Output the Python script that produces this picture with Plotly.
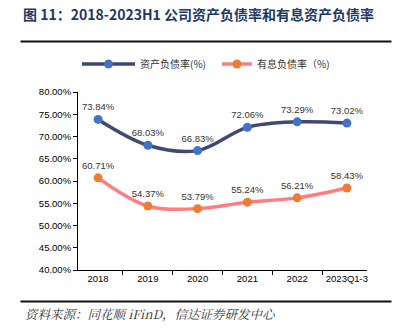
import plotly.graph_objects as go

categories = ["2018", "2019", "2020", "2021", "2022", "2023Q1-3"]
debt_ratio = [73.84, 68.03, 66.83, 72.06, 73.29, 73.02]
interest_debt_ratio = [60.71, 54.37, 53.79, 55.24, 56.21, 58.43]
y_ticks = [40, 45, 50, 55, 60, 65, 70, 75, 80]

W, H = 396, 332
L, R, T, B = 78, 29, 92, 62
PW, PH = W - L - R, H - T - B


def px_x(x):
    return (x - L) / PW


def px_y(y):
    return (H - B - y) / PH


def rule(y_px):
    # thin dark bar spanning the page width, used as a horizontal rule
    return dict(text="", xref="paper", yref="paper", x=px_x(20), y=px_y(y_px),
                xanchor="left", yanchor="middle", showarrow=False,
                width=370, height=1, borderpad=0, bgcolor="#111111")


label_font = dict(family="Liberation Sans, Arial", size=9.5, color="#333333")
legend_font = dict(family="Noto Sans CJK SC", size=10, color="#333333")

fig = go.Figure()
fig.add_trace(go.Scatter(
    x=categories, y=debt_ratio, name="资产负债率(%)", legend="legend",
    mode="lines+markers+text",
    line=dict(color="#404a70", width=3.5, shape="spline", smoothing=1),
    marker=dict(color="#4472c4", size=9),
    text=[f"{v:.2f}%" for v in debt_ratio], textposition="top center",
    textfont=label_font, cliponaxis=False,
))
fig.add_trace(go.Scatter(
    x=categories, y=interest_debt_ratio, name="有息负债率（%)", legend="legend2",
    mode="lines+markers+text",
    line=dict(color="#ff7c80", width=3.5, shape="spline", smoothing=1),
    marker=dict(color="#ed7d31", size=9),
    text=[f"{v:.2f}%" for v in interest_debt_ratio], textposition="top center",
    textfont=label_font, cliponaxis=False,
))

legend_common = dict(orientation="h", xref="container", yref="container",
                     y=1 - 64 / H, yanchor="middle", xanchor="left",
                     font=legend_font, bgcolor="rgba(0,0,0,0)", borderwidth=0)

fig.update_layout(
    width=W, height=H,
    margin=dict(l=L, r=R, t=T, b=B, autoexpand=False),
    paper_bgcolor="white", plot_bgcolor="white",
    font=dict(family="Liberation Sans, Arial, Noto Sans CJK SC", size=10, color="#333333"),
    showlegend=True,
    legend=dict(x=77 / W, itemwidth=53, **legend_common),
    legend2=dict(x=217 / W, itemwidth=30, **legend_common),
    xaxis=dict(type="category", showline=True, linecolor="#000000", linewidth=1,
               ticks="outside", ticklen=4, tickcolor="#000000", tickson="boundaries",
               tickangle=0, automargin=False,
               showgrid=False, tickfont=dict(size=9.5, color="#000000"), fixedrange=True),
    yaxis=dict(range=[40, 80], tickvals=y_ticks, ticktext=[f"{v:.2f}%" for v in y_ticks],
               showline=True, linecolor="#000000", linewidth=1, ticks="outside",
               ticklen=4, tickcolor="#000000", showgrid=False, zeroline=False,
               automargin=False,
               tickfont=dict(size=9.5, color="#000000"), fixedrange=True),
    annotations=[
        dict(text="<b>图 11：2018-2023H1 公司资产负债率和有息资产负债率</b>",
             xref="paper", yref="paper", x=px_x(21), y=px_y(14),
             xanchor="left", yanchor="middle", showarrow=False,
             font=dict(family="Noto Sans CJK SC", size=14, color="#1f3864")),
        dict(text="<i>资料来源：同花顺 iFinD，信达证券研发中心</i>",
             xref="paper", yref="paper", x=px_x(23), y=px_y(314),
             xanchor="left", yanchor="middle", showarrow=False,
             font=dict(family="Noto Serif CJK SC, Noto Sans CJK SC", size=12.5, color="#333333")),
        rule(41),
        rule(301),
    ],
)

fig.write_html("out.html")
